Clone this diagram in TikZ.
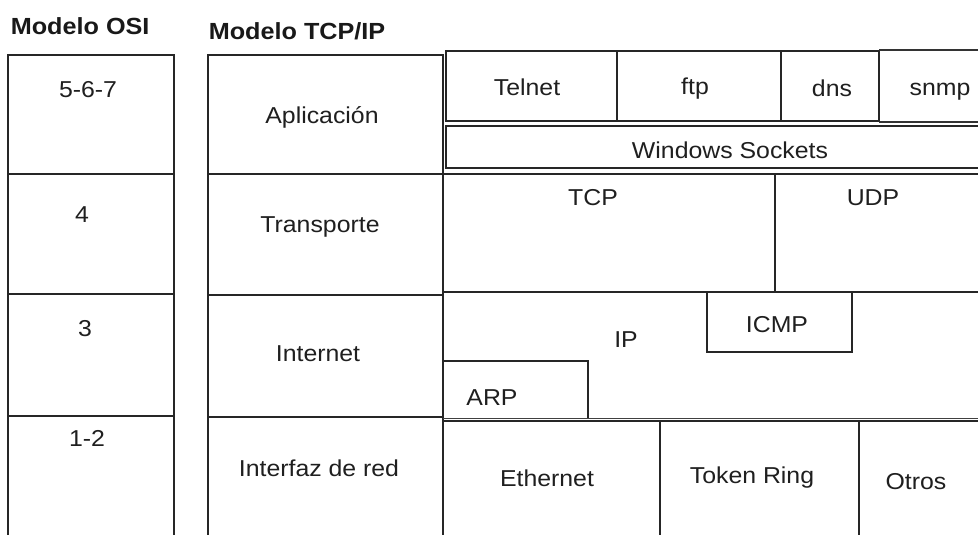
\documentclass[tikz,border=0pt]{standalone}
\usepackage{fontspec}
\setmainfont[FakeStretch=1.08]{Liberation Sans}
\begin{document}
\begin{tikzpicture}[x=0.75pt,y=-0.75pt,
  line width=1.25pt, line join=miter,
  lbl/.style={anchor=base, inner sep=0pt, text=black!88, font=\fontsize{17.25}{20}\selectfont},
  hdr/.style={anchor=base west, inner sep=0pt, text=black!90, font=\bfseries\fontsize{17.5}{20}\selectfont}]
\useasboundingbox (0,0) rectangle (978,535);
\fill[white] (0,0) rectangle (978,535);

% headings
\node[hdr] (hosi) at (10,35) {Modelo OSI};
\node[hdr] (htcp) at (208,40) {Modelo TCP/IP};

% OSI column
\draw[black!85] (8,535) -- (8,55) -- (174,55) -- (174,535);
\draw[black!85] (8,174) -- (174,174) (8,294) -- (174,294) (8,416) -- (174,416);
\node[lbl] (o567) at (88,98) {5-6-7};
\node[lbl] (o4) at (82,222) {4};
\node[lbl] (o3) at (85,336) {3};
\node[lbl] (o12) at (87,446) {1-2};

% TCP/IP column
\draw[black!85] (208,535) -- (208,55) -- (443,55) -- (443,535);
\draw[black!85] (208,174) -- (443,174) (208,295) -- (443,295) (208,417) -- (443,417);
\node[lbl] (lapp) at (322,123) {Aplicación};
\node[lbl] (ltra) at (320,232) {Transporte};
\node[lbl] (lint) at (318,361) {Internet};
\node[lbl] (lred) at (319,476) {Interfaz de red};

% application protocols
\draw[black!85] (446,51) rectangle (879,121);
\draw[black!85] (617,51) -- (617,121) (781,51) -- (781,121);
\draw[black!80] (879,50) -- (978,50) (879,122) -- (978,122);
\node[lbl] (telnet) at (527,95) {Telnet};
\node[lbl] (ftp) at (695,94) {ftp};
\node[lbl] (dns) at (832,97) {dns};
\node[lbl] (snmp) at (940,95) {snmp};

% Windows Sockets
\draw[black!85] (978,126) -- (446,126) -- (446,168) -- (978,168);
\node[lbl] (ws) at (730,158) {Windows Sockets};

% transport
\draw[black!85] (443,174) -- (978,174);
\draw[black!85] (775,174) -- (775,292);
\draw[black!85] (443,292) -- (978,292);
\node[lbl] (tcp) at (593,205) {TCP};
\node[lbl] (udp) at (873,205) {UDP};

% internet
\draw[black!85] (707,292) -- (707,352) -- (852,352) -- (852,292);
\node[lbl] (icmp) at (777,332) {ICMP};
\node[lbl] (ip) at (626,347) {IP};
\draw[black!85] (443,361) -- (588,361) -- (588,419);
\draw[black!75] (443,418.5) -- (978,418.5);
\node[lbl] (arp) at (492,405) {ARP};

% network interface
\draw[black!85] (443,421) -- (978,421);
\draw[black!85] (660,421) -- (660,535) (859,421) -- (859,535);
\node[lbl] (eth) at (547,486) {Ethernet};
\node[lbl] (tok) at (752,483) {Token Ring};
\node[lbl] (otr) at (916,489) {Otros};
\end{tikzpicture}
\end{document}
